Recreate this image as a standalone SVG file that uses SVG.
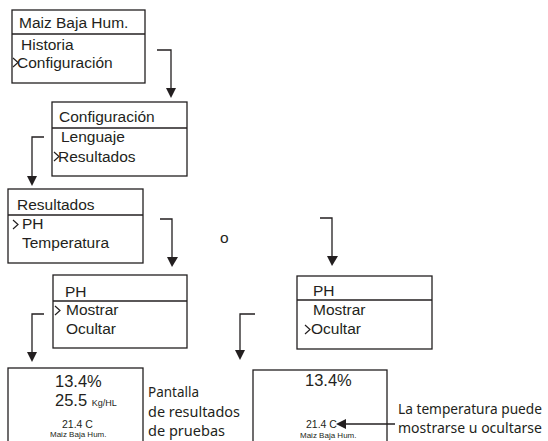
<svg xmlns="http://www.w3.org/2000/svg" width="548" height="441" viewBox="0 0 548 441">
<style>
.box{fill:#fff;stroke:#231f20;stroke-width:1.3}
.div{stroke:#231f20;stroke-width:1.3}
.t{font-family:"Liberation Sans",Arial,sans-serif;font-size:15.5px;fill:#231f20}
.chev{fill:none;stroke:#231f20;stroke-width:1.2}
.con{fill:none;stroke:#231f20;stroke-width:1.3}
.head{fill:#231f20}
.big{font-family:"Liberation Sans",Arial,sans-serif;font-size:16.5px;fill:#231f20}
.mid{font-family:"Liberation Sans",Arial,sans-serif;font-size:10.5px;fill:#231f20}
.sm{font-family:"Liberation Sans",Arial,sans-serif;font-size:8px;fill:#231f20}
.kg{font-family:"Liberation Sans",Arial,sans-serif;font-size:9px;fill:#231f20}
.note{font-family:"Noto Sans","Open Sans",sans-serif;font-size:14px;fill:#231f20}
</style>
<g id="menu-main">
<rect class="box" x="12" y="10" width="133" height="73"/>
<line class="div" x1="12" y1="34" x2="145" y2="34"/>
<text class="t" x="19" y="28">Maiz Baja Hum.</text>
<text class="t" x="21" y="50">Historia</text>
<polyline class="chev" points="13,58 18,62.5 13,67"/>
<text class="t" x="17" y="68">Configuración</text>
</g>
<g id="menu-config">
<rect class="box" x="52" y="102" width="135" height="74"/>
<line class="div" x1="52" y1="128" x2="187" y2="128"/>
<text class="t" x="59" y="122">Configuración</text>
<text class="t" x="61" y="142">Lenguaje</text>
<polyline class="chev" points="54,152 59,156.5 54,161"/>
<text class="t" x="58" y="162">Resultados</text>
</g>
<g id="menu-resultados">
<rect class="box" x="8" y="189" width="135" height="74"/>
<line class="div" x1="8" y1="215" x2="143" y2="215"/>
<text class="t" x="17" y="210">Resultados</text>
<polyline class="chev" points="13,220 18,224.5 13,229"/>
<text class="t" x="22" y="229">PH</text>
<text class="t" x="22" y="248">Temperatura</text>
</g>
<g id="or-label"><text class="t" x="220" y="243">o</text></g>
<g id="menu-ph-mostrar">
<rect class="box" x="53" y="275" width="134" height="73"/>
<line class="div" x1="53" y1="301" x2="187" y2="301"/>
<text class="t" x="65" y="297">PH</text>
<polyline class="chev" points="55,306 60,310.5 55,315"/>
<text class="t" x="66" y="315">Mostrar</text>
<text class="t" x="66" y="334">Ocultar</text>
</g>
<g id="menu-ph-ocultar">
<rect class="box" x="297" y="276" width="135" height="73"/>
<line class="div" x1="297" y1="300" x2="432" y2="300"/>
<text class="t" x="313" y="296">PH</text>
<text class="t" x="313" y="315">Mostrar</text>
<polyline class="chev" points="305,325 310,329.5 305,334"/>
<text class="t" x="311" y="334">Ocultar</text>
</g>
<g id="screen-mostrar">
<rect class="box" x="8" y="368" width="135" height="80"/>
<text class="big" x="55" y="387">13.4%</text>
<text class="big" x="55" y="406">25.5 <tspan class="kg">Kg/HL</tspan></text>
<text class="mid" x="62" y="428">21.4 C</text>
<text class="sm" x="50" y="437">Maiz Baja Hum.</text>
</g>
<g id="note-pantalla">
<text class="note" x="148" y="397" textLength="51" lengthAdjust="spacingAndGlyphs">Pantalla</text>
<text class="note" x="148" y="417" textLength="92" lengthAdjust="spacingAndGlyphs">de resultados</text>
<text class="note" x="148" y="436" textLength="77" lengthAdjust="spacingAndGlyphs">de pruebas</text>
</g>
<g id="screen-ocultar">
<rect class="box" x="253" y="370" width="134" height="80"/>
<text class="big" x="305" y="386">13.4%</text>
<text class="mid" x="306" y="428">21.4 C</text>
<text class="sm" x="300" y="438">Maiz Baja Hum.</text>
</g>
<g id="note-temp">
<text class="note" x="398" y="414" textLength="144" lengthAdjust="spacingAndGlyphs">La temperatura puede</text>
<text class="note" x="398" y="433" textLength="144" lengthAdjust="spacingAndGlyphs">mostrarse u ocultarse</text>
</g>
<g id="connectors">
<path class="con" d="M157,50 H171 V90"/><polygon class="head" points="166,88 176,88 171,98"/>
<path class="con" d="M44,137 H32 V178"/><polygon class="head" points="27,176 37,176 32,186"/>
<path class="con" d="M160,219 H172 V258"/><polygon class="head" points="167,257 178,257 172,267"/>
<path class="con" d="M320,218 H332 V258"/><polygon class="head" points="327,256 338,256 332,266"/>
<path class="con" d="M44,314 H32 V354"/><polygon class="head" points="27,352 37,352 32,362"/>
<path class="con" d="M255,314 H240 V352"/><polygon class="head" points="235,350 245,350 240,360"/>
<path class="con" d="M344,424 H395"/><polygon class="head" points="336,424 346,419 346,429"/>
</g>
</svg>
